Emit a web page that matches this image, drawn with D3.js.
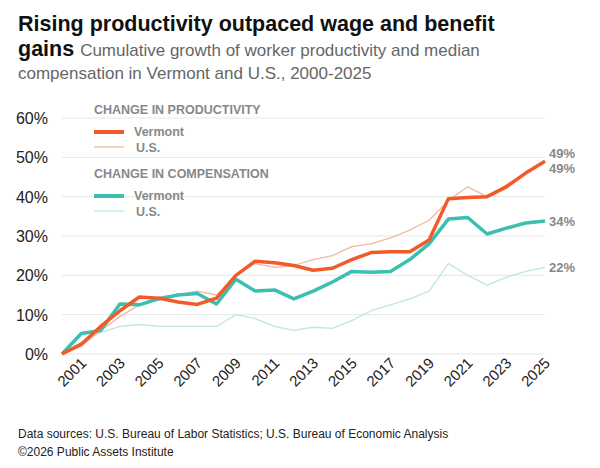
<!DOCTYPE html><html><head><meta charset="utf-8"><script src="https://cdn.jsdelivr.net/npm/d3@7"></script>
<style>body{margin:0;background:#fff;font-family:"Liberation Sans",Arial,sans-serif}</style></head><body><svg id="c" width="600" height="468"></svg><script>
const years=d3.range(2000,2026);
const vtProd=[0,2.5,7,11,14.5,14.2,13.2,12.6,14.2,20,23.6,23.2,22.5,21.3,21.8,24,25.8,26,26,29,39.5,39.8,40,42.5,46,49];
const usProd=[0,2,6,9.5,12.5,14.5,15,16,15,20,23,22,22.5,24,25,27.3,28,29.5,31.5,34,39,42.5,40,43,46,49];
const vtComp=[0,5.2,6,12.7,12.5,14,15,15.4,12.7,19,16,16.3,14,16,18.3,21,20.8,21,24,28,34.3,34.7,30.5,32,33.3,33.8];
const usComp=[0,3,5.5,7,7.5,7,7,7,7,10,9,7,6,6.8,6.5,8.5,11,12.5,14,16,23,20,17.5,19.5,21,22];
const yTicks=[0,10,20,30,40,50,60];
const xTicks=d3.range(2001,2026,2);
const svg=d3.select("#c");
const x=d3.scaleLinear().domain([2000,2025]).range([62,545]);
const y=d3.scaleLinear().domain([0,60]).range([354,118]);
svg.append("text").attr("x",18).attr("y",31).attr("font-size",21.5).attr("font-weight",700).attr("fill","#111").text("Rising productivity outpaced wage and benefit");
const t2=svg.append("text").attr("x",18).attr("y",56);
t2.append("tspan").attr("font-size",21.5).attr("font-weight",700).attr("fill","#111").text("gains ");
t2.append("tspan").attr("font-size",17).attr("fill","#666").text("Cumulative growth of worker productivity and median");
svg.append("text").attr("x",18).attr("y",79).attr("font-size",17).attr("fill","#666").text("compensation in Vermont and U.S., 2000-2025");
svg.append("g").selectAll("line").data(yTicks).join("line").attr("x1",62).attr("x2",545).attr("y1",d=>y(d)).attr("y2",d=>y(d)).attr("stroke","#e6e6e6");
svg.append("g").selectAll("text").data(yTicks).join("text").attr("x",48).attr("y",d=>y(d)+6).attr("text-anchor","end").attr("font-size",16).attr("fill","#222").text(d=>d+"%");
svg.append("g").selectAll("text").data(xTicks).join("text").attr("transform",d=>`translate(${x(d)+6},${364}) rotate(-45)`).attr("text-anchor","end").attr("font-size",15).attr("fill","#222").text(d=>d);
const line=d3.line().x((d,i)=>x(years[i])).y(d=>y(d));
const series=[[usComp,"#bfe6e0",1.3],[usProd,"#f7b79e",1.3],[vtComp,"#3bbfb0",3.5],[vtProd,"#f25a2a",3.5]];
series.forEach(s=>svg.append("path").attr("d",line(s[0])).attr("fill","none").attr("stroke",s[1]).attr("stroke-width",s[2]).attr("stroke-linejoin","round"));
const lab=[[49,-8],[49,7],[33.8,0],[22,0]];
svg.append("g").selectAll("text").data(lab).join("text").attr("x",549).attr("y",d=>y(d[0])+d[1]+5).attr("font-size",13).attr("font-weight",700).attr("fill","#888").text(d=>Math.round(d[0])+"%");
const lg=svg.append("g").attr("font-weight",700).attr("fill","#888").attr("font-size",12.5);
function legend(y0,title,c1,c2){lg.append("text").attr("x",94).attr("y",y0).text(title);
lg.append("line").attr("x1",94).attr("x2",124).attr("y1",y0+18).attr("y2",y0+18).attr("stroke",c1).attr("stroke-width",4);
lg.append("text").attr("x",134).attr("y",y0+22).text("Vermont");
lg.append("line").attr("x1",94).attr("x2",124).attr("y1",y0+33).attr("y2",y0+33).attr("stroke",c2).attr("stroke-width",1.3);
lg.append("text").attr("x",136).attr("y",y0+38).text("U.S.");}
legend(114,"CHANGE IN PRODUCTIVITY","#f25a2a","#f7b79e");
legend(178,"CHANGE IN COMPENSATION","#3bbfb0","#bfe6e0");
svg.append("text").attr("x",18).attr("y",438).attr("font-size",12).attr("fill","#222").text("Data sources: U.S. Bureau of Labor Statistics; U.S. Bureau of Economic Analysis");
svg.append("text").attr("x",18).attr("y",456).attr("font-size",12).attr("fill","#222").text("©2026 Public Assets Institute");
</script></body></html>
